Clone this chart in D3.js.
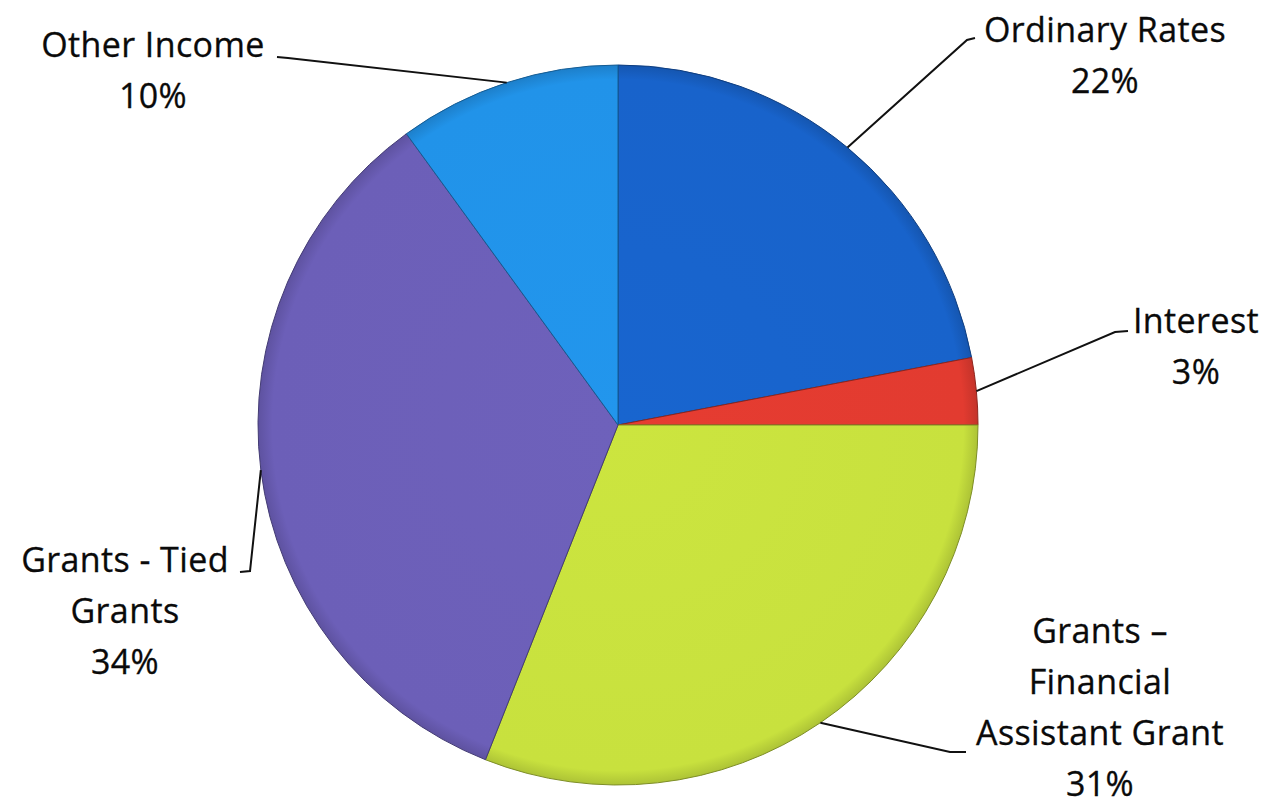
<!DOCTYPE html>
<html>
<head>
<meta charset="utf-8">
<script src="https://cdn.jsdelivr.net/npm/d3@7"></script>
<style>
  html, body { margin: 0; padding: 0; background: #fff; }
  svg { display: block; }
  text { font-family: "Open Sans", "Noto Sans", sans-serif; fill: #0a0a0a; }
</style>
</head>
<body>
<div id="chart"></div>
<script>
// data
const categories = ["Ordinary Rates", "Interest", "Grants \u2013 Financial Assistant Grant", "Grants - Tied Grants", "Other Income"];
const shares = [22, 3, 31, 34, 10];
const labelLines = [
  ["Ordinary Rates", "22%"],
  ["Interest", "3%"],
  ["Grants \u2013", "Financial", "Assistant Grant", "31%"],
  ["Grants - Tied", "Grants", "34%"],
  ["Other Income", "10%"]
];
const colors = ["#1863cb", "#e23b30", "#c8e13e", "#6c5fb8", "#2193e9"];

// layout of the callouts (label centre, first baseline, leader elbow points)
const callouts = [
  { x: 1105, y: 42, path: [[967, 40], [975, 38]] },
  { x: 1196, y: 333, path: [[1115, 332], [1128, 331]] },
  { x: 1100, y: 643, path: [[950, 752], [966, 752]] },
  { x: 125, y: 572, path: [[250, 571], [240, 572]] },
  { x: 153, y: 57, path: [[288, 58], [277, 57]] }
];

const width = 1268, height = 808;
const cx = 618, cy = 425, radius = 360;
const lineGap = 51;

const svg = d3.select("#chart").append("svg")
  .attr("width", width)
  .attr("height", height);

const defs = svg.append("defs");
colors.forEach((c, i) => {
  // gradient lives in the translated pie group, so centre is 0,0
  const g = defs.append("radialGradient")
    .attr("id", "grad" + i)
    .attr("gradientUnits", "userSpaceOnUse")
    .attr("cx", 0).attr("cy", 0).attr("r", radius);
  const base = d3.rgb(c);
  g.append("stop").attr("offset", "0%").attr("stop-color", base.brighter(0.05));
  g.append("stop").attr("offset", "96%").attr("stop-color", base);
  g.append("stop").attr("offset", "100%").attr("stop-color", base.darker(0.4));
});

const pie = d3.pie().sort(null).value(d => d);
const arcs = pie(shares);
const arc = d3.arc().innerRadius(0).outerRadius(radius);

const g = svg.append("g").attr("transform", `translate(${cx},${cy})`);

g.selectAll("path.slice")
  .data(arcs)
  .join("path")
  .attr("class", "slice")
  .attr("d", arc)
  .attr("fill", (d, i) => `url(#grad${i})`)
  .attr("stroke", (d, i) => d3.rgb(colors[i]).darker(1.3))
  .attr("stroke-width", 1)
  .attr("stroke-linejoin", "round");

// leader lines
const line = d3.line();
arcs.forEach((d, i) => {
  const mid = (d.startAngle + d.endAngle) / 2;
  const start = [cx + radius * Math.sin(mid), cy - radius * Math.cos(mid)];
  svg.append("path")
    .attr("d", line([start, ...callouts[i].path]))
    .attr("fill", "none")
    .attr("stroke", "#111")
    .attr("stroke-width", 2);
});

// labels
labelLines.forEach((lines, i) => {
  const t = svg.append("text")
    .attr("text-anchor", "middle")
    .attr("font-size", 34)
    .attr("letter-spacing", 0.4)
    .attr("stroke", "#0a0a0a")
    .attr("stroke-width", 0.3);
  lines.forEach((s, j) => {
    t.append("tspan")
      .attr("x", callouts[i].x)
      .attr("y", callouts[i].y + j * lineGap)
      .text(s);
  });
});
</script>
</body>
</html>
